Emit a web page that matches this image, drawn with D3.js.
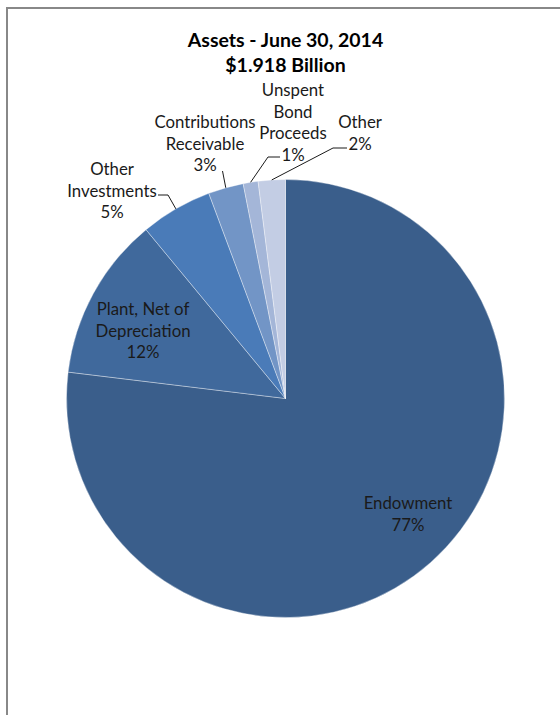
<!DOCTYPE html>
<html>
<head>
<meta charset="utf-8">
<script src="https://cdn.jsdelivr.net/npm/d3@7"></script>
<style>
  body { margin: 0; background: #fff; }
  svg { display: block; font-family: Lato, "Liberation Sans", sans-serif; }
</style>
</head>
<body>
<script>
// slices in clockwise order from 12 o'clock, share of total assets (%)
var categories = ["Endowment", "Plant, Net of Depreciation", "Other Investments",
                  "Contributions Receivable", "Unspent Bond Proceeds", "Other"];
var values = [77.0, 12.1, 5.3, 2.6, 1.1, 2.0];
var colors = ["#3a5e8b", "#40699c", "#4a7bb8", "#7295c6", "#a4b6d8", "#c3cde4"];
var labelLines = [["Endowment"], ["Plant, Net of", "Depreciation"], ["Other", "Investments"],
                  ["Contributions", "Receivable"], ["Unspent", "Bond", "Proceeds"], ["Other"]];
var titleLines = ["Assets - June 30, 2014", "$1.918 Billion"];

var w = 560, h = 715,
    cx = 285.5, cy = 398.5, r = 219;

// where each label block sits (center x, first baseline) and leader elbow
var labelPos = [
  {x: 408, y: 509, leader: false},
  {x: 143, y: 315, leader: false},
  {x: 112, y: 175, leader: true, ex: 168, ey: 195, hx: 158},
  {x: 205, y: 128, leader: true, ex: 222.5, ey: 171, hx: 222.5},
  {x: 293, y: 96, leader: true, ex: 268, ey: 157, hx: 280},
  {x: 360, y: 128, leader: true, ex: 333, ey: 148, hx: 347}
];
var lh = 21.5;

var svg = d3.select("body").append("svg")
    .attr("width", w)
    .attr("height", h);

svg.append("rect")
    .attr("x", 7).attr("y", 8)
    .attr("width", 700).attr("height", 900)
    .attr("fill", "none")
    .attr("stroke", "#888")
    .attr("stroke-width", 2);

svg.selectAll(".title")
    .data(titleLines)
  .enter().append("text")
    .attr("class", "title")
    .attr("x", cx)
    .attr("y", function(d, i) { return 47 + i * 25; })
    .attr("text-anchor", "middle")
    .style("font-size", "19.5px")
    .style("font-weight", "bold")
    .attr("fill", "#000")
    .text(function(d) { return d; });

var pie = d3.pie().sort(null).value(function(d) { return d; });
var arcs = pie(values);
var arc = d3.arc().innerRadius(0).outerRadius(r);
var edge = d3.arc().innerRadius(r).outerRadius(r);

var g = svg.append("g").attr("transform", "translate(" + cx + "," + cy + ")");

g.selectAll("path")
    .data(arcs)
  .enter().append("path")
    .attr("d", arc)
    .attr("fill", function(d, i) { return colors[i]; })
    .attr("stroke", "#ffffff")
    .attr("stroke-opacity", 0.45)
    .attr("stroke-width", 0.8);

// leader lines: slice edge midpoint -> elbow -> label
arcs.forEach(function(d, i) {
  var p = labelPos[i];
  if (!p.leader) return;
  var c = edge.centroid(d);
  svg.append("polyline")
      .attr("points", [[cx + c[0], cy + c[1]], [p.ex, p.ey], [p.hx, p.ey]].join(" "))
      .attr("fill", "none")
      .attr("stroke", "#000")
      .attr("stroke-width", 0.9);
});

arcs.forEach(function(d, i) {
  var p = labelPos[i];
  var lines = labelLines[i].concat([Math.round(d.value) + "%"]);
  var t = svg.append("text")
      .attr("text-anchor", "middle")
      .style("font-size", "16.8px")
      .attr("fill", "#1a1a1a");
  t.selectAll("tspan")
      .data(lines)
    .enter().append("tspan")
      .attr("x", p.x)
      .attr("y", function(l, j) { return p.y + j * lh; })
      .text(function(l) { return l; });
});
</script>
</body>
</html>
